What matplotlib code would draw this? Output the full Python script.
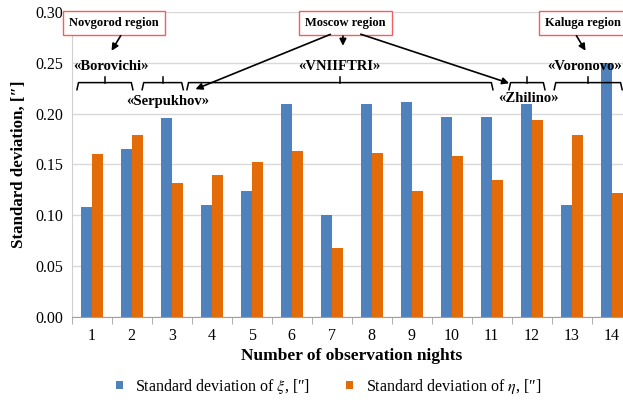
import numpy as np
import matplotlib
matplotlib.use("Agg")
import matplotlib.pyplot as plt
from matplotlib.ticker import MultipleLocator, FixedLocator

plt.rcParams['font.family'] = ['Liberation Serif', 'DejaVu Serif']
plt.rcParams['mathtext.fontset'] = 'stix'

nights = np.arange(1, 15)
sd_xi = [0.108, 0.165, 0.196, 0.110, 0.124, 0.209, 0.100,
         0.209, 0.211, 0.197, 0.197, 0.209, 0.110, 0.250]
sd_eta = [0.160, 0.179, 0.132, 0.140, 0.152, 0.163, 0.068,
          0.161, 0.124, 0.158, 0.135, 0.194, 0.179, 0.122]

# site groups: (label, first x, last x, label x, label y)
sites = [
    ("«Borovichi»", 0.63, 2.03, 1.47, 0.246),
    ("«Serpukhov»", 2.26, 3.29, 2.91, 0.2115),
    ("«VNIIFTRI»", 3.38, 11.03, 7.18, 0.2468),
    ("«Zhilino»", 11.43, 12.33, 11.91, 0.2144),
    ("«Voronovo»", 12.56, 14.26, 13.31, 0.246),
]
regions = [
    ("Novgorod region", 1.56, [(1.76, 1.46, 0.2595)]),
    ("Moscow region", 7.34, [(7.03, 3.53, 0.223), (7.28, 7.28, 0.264),
                             (7.66, 11.5, 0.229)]),
    ("Kaluga region", 13.29, [(13.08, 13.38, 0.2595)]),
]

blue = '#4f81bd'
orange = '#e36c09'

fig = plt.figure(figsize=(6.23, 4.0), dpi=100)
ax = fig.add_axes([0.1151, 0.208, 0.899, 0.762])

w = 0.28
ax.bar(nights - w / 2, sd_xi, w, color=blue, label=r'Standard deviation of $\xi$, [″]')
ax.bar(nights + w / 2, sd_eta, w, color=orange, label=r'Standard deviation of $\eta$, [″]')

ax.set_xlim(0.5, 14.5)
ax.set_ylim(0, 0.30)
ax.yaxis.set_major_locator(MultipleLocator(0.05))
ax.yaxis.set_major_formatter(matplotlib.ticker.FormatStrFormatter('%.2f'))
ax.set_xticks(nights)
ax.xaxis.set_minor_locator(FixedLocator(np.arange(0.5, 15, 1)))
ax.tick_params(axis='x', which='major', length=0, labelsize=11.5, pad=8)
ax.tick_params(axis='x', which='minor', length=5, color='#a0a0a0')
ax.tick_params(axis='y', length=0, labelsize=11.5, pad=6)
ax.grid(axis='y', color='#d9d9d9', linewidth=1)
ax.set_axisbelow(True)
for s in ['top', 'right']:
    ax.spines[s].set_visible(False)
ax.spines['left'].set_color('#d0d0d0')
ax.spines['bottom'].set_color('#a0a0a0')

ax.set_xlabel('Number of observation nights', fontsize=12.5, fontweight='bold', labelpad=3)
ax.set_ylabel('Standard deviation, [″]', fontsize=12.2, fontweight='bold', labelpad=6)

# braces and site labels
yb, ye, yt = 0.2305, 0.2235, 0.2365
for name, x0, x1, lx, ly in sites:
    xm = (x0 + x1) / 2
    ax.plot([x0, x0 + 0.04, x1 - 0.04, x1], [ye, yb, yb, ye], color='black', lw=1.1, clip_on=False)
    ax.plot([xm, xm], [yb, yt], color='black', lw=1.1, clip_on=False)
    ax.text(lx, ly, name, ha='center', va='center', fontsize=10.5, fontweight='bold', clip_on=False)

# region boxes with arrows
for name, cx, arrows in regions:
    ax.text(cx, 0.289, name, ha='center', va='center', fontsize=9, fontweight='bold',
            bbox=dict(boxstyle='square,pad=0.5', fc='white', ec='#f06060', lw=1), clip_on=False)
    for x0, x1, y1 in arrows:
        ax.annotate('', xy=(x1, y1), xytext=(x0, 0.279),
                    arrowprops=dict(arrowstyle='-|>', color='black', lw=1.2, mutation_scale=10),
                    annotation_clip=False)

fig.legend(loc='center', bbox_to_anchor=(0.527, 0.035), ncol=2, frameon=False,
           fontsize=11.5, handlelength=0.45, handleheight=0.45, columnspacing=2.2, handletextpad=0.8)

fig.savefig('out.png', dpi=100)
